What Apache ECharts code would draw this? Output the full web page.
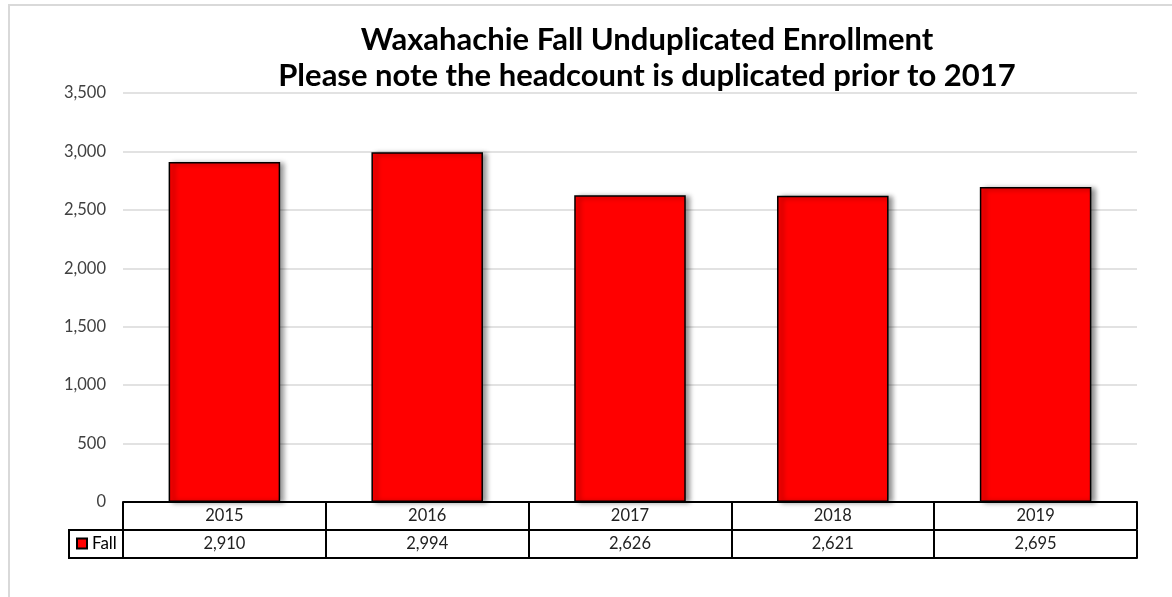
<!DOCTYPE html>
<html>
<head>
<meta charset="utf-8">
<script src="https://cdn.jsdelivr.net/npm/echarts@6/dist/echarts.min.js"></script>
<style>
  html, body { margin: 0; padding: 0; background: #fff; }
  #main { width: 1172px; height: 597px; }
</style>
</head>
<body>
<div id="main"></div>
<script>
// data
var years = ["2015", "2016", "2017", "2018", "2019"];
var fallValues = [2910, 2994, 2626, 2621, 2695];
var seriesName = "Fall";

function fmt(v) {
  return Number(v).toLocaleString("en-US");
}

var tableLine = { color: "#000", width: 2 };
var font = "Lato, Carlito, 'Open Sans', sans-serif";

var myChart = echarts.init(document.getElementById("main"));
var option = {
  backgroundColor: "#fff",
  animation: false,
  title: {
    text: "Waxahachie Fall Unduplicated Enrollment\nPlease note the headcount is duplicated prior to 2017",
    left: 642,
    top: 17,
    textAlign: "center",
    textStyle: {
      fontFamily: font,
      fontSize: 31,
      fontWeight: "bold",
      color: "#000",
      lineHeight: 36,
    },
  },
  legend: {
    left: 76,
    top: 535,
    padding: 0,
    itemWidth: 10,
    itemHeight: 10,
    icon: "rect",
    textStyle: { fontFamily: font, fontSize: 17, color: "#000" },
    data: [seriesName],
  },
  grid: { left: 123, right: 35, top: 93, bottom: 95 },
  yAxis: {
    type: "value",
    min: 0,
    max: 3500,
    interval: 500,
    axisLine: { show: false },
    axisTick: { show: false },
    splitLine: { lineStyle: { color: "#d9d9d9", width: 1.5 } },
    axisLabel: {
      margin: 17,
      color: "#404040",
      fontFamily: font,
      fontSize: 16.5,
      formatter: fmt,
    },
  },
  xAxis: [
    {
      type: "category",
      data: years,
      position: "bottom",
      axisLine: { lineStyle: tableLine },
      axisTick: { show: true, length: 27, interval: 0, lineStyle: tableLine },
      axisLabel: { margin: 5, color: "#222", fontFamily: font, fontSize: 16.5, interval: 0 },
    },
    {
      type: "category",
      data: years,
      position: "bottom",
      offset: 28,
      axisLine: { lineStyle: tableLine },
      axisTick: { show: true, length: 28, interval: 0, lineStyle: tableLine },
      axisLabel: {
        margin: 5,
        color: "#222",
        fontFamily: font,
        fontSize: 16.5,
        interval: 0,
        formatter: function (v, i) {
          return fmt(fallValues[i]);
        },
      },
    },
    {
      type: "category",
      data: years,
      position: "bottom",
      offset: 56,
      axisLine: { lineStyle: tableLine },
      axisTick: { show: false },
      axisLabel: { show: false },
    },
  ],
  graphic: [
    {
      type: "rect",
      shape: { x: 9, y: 5, width: 1200, height: 700 },
      style: { fill: "none", stroke: "#d9d9d9", lineWidth: 2 },
      silent: true,
      z: -10,
    },
    {
      type: "rect",
      shape: { x: 69, y: 530, width: 54, height: 28 },
      style: { fill: "none", stroke: "#000", lineWidth: 2 },
      silent: true,
    },
  ],
  series: [
    {
      name: seriesName,
      type: "bar",
      xAxisIndex: 0,
      barWidth: "55%",
      data: fallValues,
      itemStyle: {
        color: "#ff0000",
        borderColor: "#000",
        borderWidth: 1.5,
        shadowColor: "rgba(0,0,0,0.45)",
        shadowBlur: 5,
        shadowOffsetX: 4,
        shadowOffsetY: 1,
      },
    },
  ],
};
myChart.setOption(option);
</script>
</body>
</html>
